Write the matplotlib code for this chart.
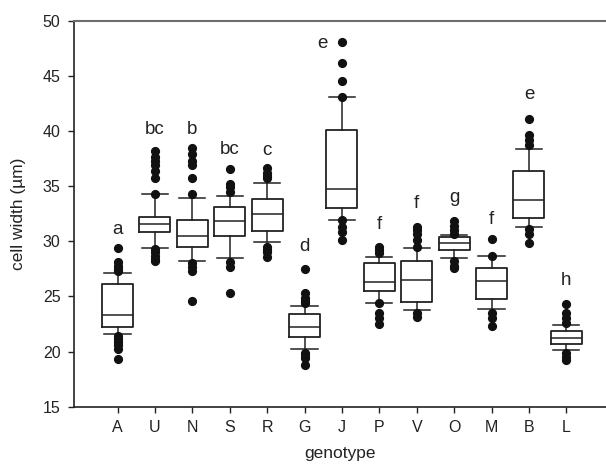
import matplotlib
matplotlib.use("Agg")
import matplotlib.pyplot as plt

genotypes = ["A", "U", "N", "S", "R", "G", "J", "P", "V", "O", "M", "B", "L"]
q1 = [22.2, 30.8, 29.5, 30.5, 30.9, 21.3, 33.0, 25.5, 24.5, 29.2, 24.8, 32.1, 20.7]
med = [23.35, 31.6, 30.5, 31.85, 32.5, 22.2, 34.7, 26.3, 26.5, 29.8, 26.4, 33.7, 21.2]
q3 = [26.1, 32.2, 31.9, 33.15, 33.8, 23.4, 40.05, 28.0, 28.2, 30.4, 27.6, 36.4, 21.9]
whislo = [21.6, 29.35, 28.2, 28.45, 29.9, 20.2, 31.9, 24.4, 23.8, 28.5, 23.9, 31.3, 20.1]
whishi = [27.1, 34.3, 33.9, 34.1, 35.3, 24.1, 43.1, 28.6, 29.4, 30.6, 28.7, 38.4, 22.45]
fliers = [
    [29.4, 28.1, 27.8, 27.5, 27.3, 21.4, 21.1, 20.9, 20.6, 20.2, 19.3],
    [38.2, 37.6, 37.3, 36.9, 36.4, 35.7, 34.3, 29.3, 29.0, 28.7, 28.4, 28.2],
    [38.5, 37.9, 37.3, 36.9, 35.7, 34.3, 28.0, 27.7, 27.3, 24.6],
    [36.55, 35.2, 34.9, 34.5, 28.1, 27.7, 25.3],
    [36.6, 36.2, 35.9, 35.7, 29.5, 29.2, 29.0, 28.6],
    [27.45, 25.3, 24.9, 24.6, 24.4, 19.9, 19.6, 19.4, 18.8],
    [48.1, 46.2, 44.5, 43.1, 31.9, 31.3, 30.85, 30.1],
    [29.5, 29.2, 28.9, 24.4, 23.5, 23.0, 22.5],
    [31.3, 31.0, 30.7, 30.1, 29.5, 23.5, 23.1],
    [31.8, 31.4, 31.0, 30.7, 28.2, 27.8, 27.6],
    [30.2, 28.7, 23.5, 23.05, 22.3],
    [41.1, 39.6, 39.15, 38.7, 31.1, 30.7, 29.8],
    [24.3, 23.5, 23.05, 22.6, 19.9, 19.5, 19.25],
]
letters = ["a", "bc", "b", "bc", "c", "d", "e", "f", "f", "g", "f", "e", "h"]
letter_y = [30.65, 39.7, 39.7, 37.9, 37.8, 29.14, 47.5, 31.07, 33.06, 33.6, 31.55, 42.9, 26.03]
letter_dx = [0, 0, 0, 0, 0, 0, -0.53, 0, 0, 0, 0, 0, 0]

plt.rcParams['font.family'] = ['Liberation Sans', 'DejaVu Sans']

fig = plt.figure(figsize=(6.06, 4.66), dpi=100)
ax = fig.add_axes([74/606, 1 - 406.7/466, 1 - 74/606, (406.7 - 20.7)/466])

stats = []
for i, g in enumerate(genotypes):
    stats.append(dict(label=g, q1=q1[i], med=med[i], q3=q3[i],
                      whislo=whislo[i], whishi=whishi[i], fliers=fliers[i]))

positions = list(range(1, len(genotypes) + 1))
lc = "#222222"
ax.bxp(stats, positions=positions, widths=0.83, capwidths=0.7,
       boxprops=dict(color=lc, linewidth=1.3),
       whiskerprops=dict(color=lc, linewidth=1.1),
       capprops=dict(color=lc, linewidth=1.1),
       medianprops=dict(color=lc, linewidth=1.1),
       flierprops=dict(marker='o', markerfacecolor='#111111', markeredgecolor='#111111',
                       markersize=5.6, linestyle='none'))

for i, (t, yv, dx) in enumerate(zip(letters, letter_y, letter_dx)):
    ax.text(positions[i] + dx, yv, t, ha='center', va='baseline', fontsize=13.5, color='#222222')

ax.set_xlim(-0.163, 14.06)
ax.set_ylim(15, 50)
ax.set_yticks([15, 20, 25, 30, 35, 40, 45, 50])
ax.set_xticks(positions)
ax.set_xticklabels(genotypes)

ax.spines['right'].set_visible(False)
ax.spines['top'].set_color('#6e6e6e')
ax.spines['top'].set_linewidth(1.5)
ax.spines['left'].set_color('#222222')
ax.spines['bottom'].set_color('#222222')
ax.spines['left'].set_linewidth(1.2)
ax.spines['bottom'].set_linewidth(1.2)

ax.tick_params(axis='both', direction='out', length=4.3, width=1.0, color='#222222',
               labelsize=11.5, labelcolor='#222222')
ax.tick_params(axis='y', pad=5.5)
ax.tick_params(axis='x', pad=5)

ax.set_ylabel("cell width (µm)", fontsize=12.5, color='#222222', labelpad=12)
ax.set_xlabel("genotype", fontsize=12.5, color='#222222', labelpad=8)

fig.savefig("out.png", dpi=100)
